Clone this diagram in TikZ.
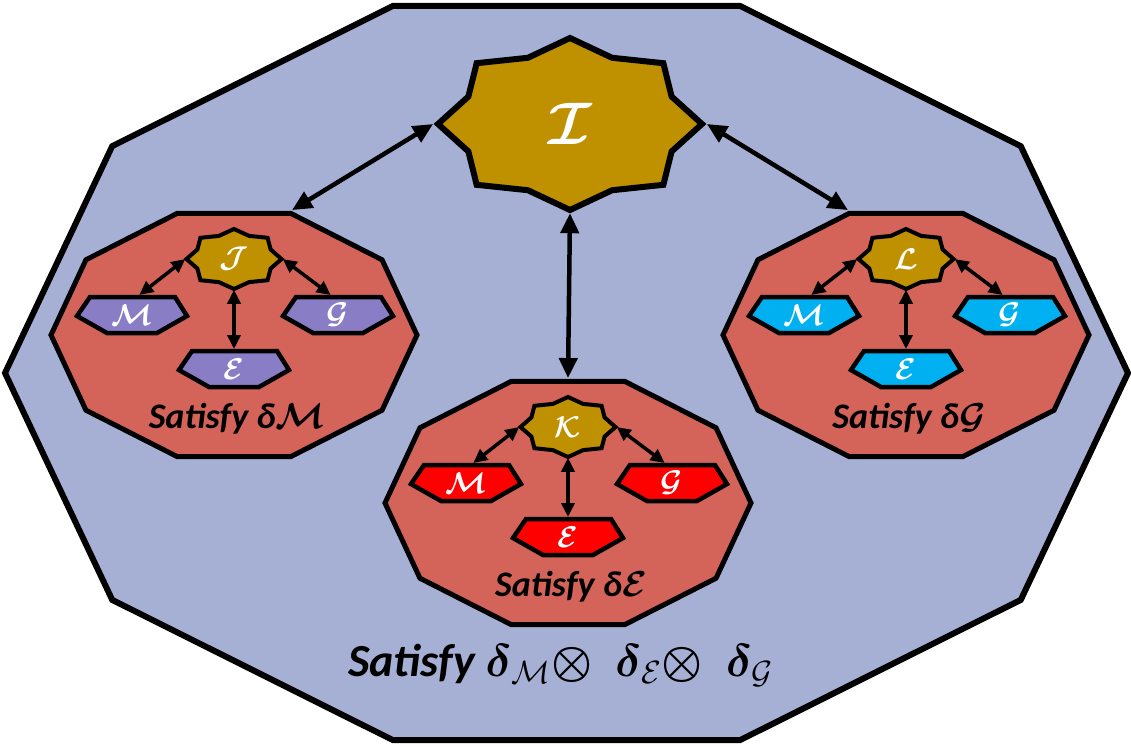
\RequirePackage{fix-cm}
\documentclass[tikz,border=0pt]{standalone}
\usepackage{amsmath}
\usepackage{fontspec}
\setmainfont{Carlito}
\usetikzlibrary{shapes.geometric,arrows.meta}

\definecolor{worldblue}{RGB}{165,176,212}
\definecolor{satred}{RGB}{212,100,90}
\definecolor{gold}{RGB}{191,144,0}
\definecolor{hexpurple}{RGB}{137,125,198}
\definecolor{hexred}{RGB}{255,0,0}
\definecolor{hexcyan}{RGB}{0,176,240}

\tikzset{
  deca/.style = {regular polygon, regular polygon sides=10, draw=black, minimum size=100pt, inner sep=0pt, transform shape},
  worldbox/.style = {deca, fill=worldblue, line width=3pt},
  satbox/.style = {deca, fill=satred, line width=2.5pt, xscale=1.83, yscale=1.28},
  starbox/.style = {star, star points=8, star point ratio=1.2, draw=black, fill=gold, minimum size=100pt, inner sep=0pt, transform shape},
  bigstar/.style = {starbox, line width=3pt, xscale=1.32, yscale=0.86},
  smallstar/.style = {starbox, line width=2pt, xscale=0.475, yscale=0.30},
  hexline/.style = {draw=black, line width=2.25pt},
  hexlbl/.style = {rectangle, minimum width=55pt, minimum height=18pt, inner sep=0pt, outer sep=1pt, text=white, font=\fontsize{15}{15}\selectfont},
  starlbl/.style = {text=white, inner sep=0pt, font=\fontsize{15}{15}\selectfont},
  satlbl/.style = {inner sep=0pt, font=\fontsize{18}{20}\selectfont\bfseries\itshape},
  bigarrow/.style = {{Triangle[length=10pt,width=9pt]}-{Triangle[length=10pt,width=9pt]}, line width=2.25pt},
  smallarrow/.style = {{Triangle[length=7pt,width=6.5pt]}-{Triangle[length=7pt,width=6.5pt]}, line width=1.75pt}
}

% hexagon with a named node on top: name, x, y, colour, letter
\newcommand\hexnode[5]{%
  \draw[hexline, fill=#4] (#2-55,#3+1) -- ++(13,-19) -- ++(85,0) -- ++(12,19) -- ++(-30,17) -- ++(-50,0) -- cycle;
  \node[hexlbl] (#1) at (#2,#3) {$\boldsymbol{\mathcal{#5}}$};
}

\begin{document}
\begin{tikzpicture}[x=0.5pt, y=-0.5pt]
\useasboundingbox (0,0) rectangle (1131,746);

\node[worldbox, xscale=5.615, yscale=3.86] (world) at (566.5,373) {};
\node[bigstar] (I) at (570,124) {};
\node[starlbl, font=\fontsize{30}{30}\selectfont] (Itxt) at (I) {$\boldsymbol{\mathcal{I}}$};

% left: satisfy dM
\node[satbox] (satM) at (234,335) {};
\node[smallstar] (J) at (234,259) {};
\node[starlbl] (Jtxt) at (J) {$\boldsymbol{\mathcal{J}}$};
\hexnode{M1}{132}{315}{hexpurple}{M}
\hexnode{G1}{338}{315}{hexpurple}{G}
\hexnode{E1}{234}{369}{hexpurple}{E}
\node[satlbl] (tM) at (237,419) {Satisfy δ$\boldsymbol{\mathcal{M}}$};

% middle: satisfy dE
\node[satbox] (satE) at (568,503) {};
\node[smallstar] (K) at (568,427) {};
\node[starlbl] (Ktxt) at (K) {$\boldsymbol{\mathcal{K}}$};
\hexnode{M2}{466}{483}{hexred}{M}
\hexnode{G2}{672}{483}{hexred}{G}
\hexnode{E2}{568}{537}{hexred}{E}
\node[satlbl] (tE) at (571,587) {Satisfy δ$\boldsymbol{\mathcal{E}}$};

% right: satisfy dG
\node[satbox] (satG) at (906,335) {};
\node[smallstar] (L) at (906,259) {};
\node[starlbl] (Ltxt) at (L) {$\boldsymbol{\mathcal{L}}$};
\hexnode{M3}{804}{315}{hexcyan}{M}
\hexnode{G3}{1010}{315}{hexcyan}{G}
\hexnode{E3}{906}{369}{hexcyan}{E}
\node[satlbl] (tG) at (909,419) {Satisfy δ$\boldsymbol{\mathcal{G}}$};

\draw[bigarrow] (I.west) -- (satM.72);
\draw[bigarrow] (I.east) -- (satG.108);
\draw[bigarrow] (I.south) -- (satE.north);

\draw[smallarrow] (J.west) -- (M1.70);
\draw[smallarrow] (J.east) -- (G1.110);
\draw[smallarrow] (J.south) -- (E1.north);
\draw[smallarrow] (K.west) -- (M2.70);
\draw[smallarrow] (K.east) -- (G2.110);
\draw[smallarrow] (K.south) -- (E2.north);
\draw[smallarrow] (L.west) -- (M3.70);
\draw[smallarrow] (L.east) -- (G3.110);
\draw[smallarrow] (L.south) -- (E3.north);

\node[inner sep=0pt, font=\fontsize{23}{26}\selectfont\bfseries\itshape] (total) at (561,665)
  {Satisfy $\boldsymbol{\delta}_{\mathcal{M}}\mathord{\boldsymbol{\otimes}}\enspace\boldsymbol{\delta}_{\mathcal{E}}\mathord{\boldsymbol{\otimes}}\enspace\boldsymbol{\delta}_{\mathcal{G}}$};
\end{tikzpicture}
\end{document}
